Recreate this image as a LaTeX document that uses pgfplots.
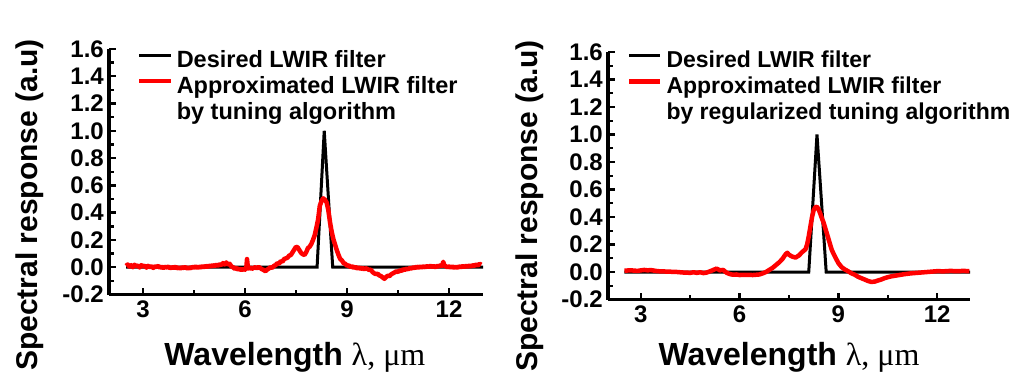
\documentclass[border=0pt]{standalone}
\usepackage{fontspec}
\setmainfont{Liberation Sans}
\newfontfamily\seriffam{Liberation Serif}
\usepackage{pgfplots}
\pgfplotsset{compat=1.18}

\pgfplotsset{
  base/.style={
    scale only axis,
    xmin=2, xmax=13, ymin=-0.2, ymax=1.6,
    axis x line*=bottom, axis y line*=left,
    axis line style={line width=3.2pt},
    tick align=inside,
    major tick length=7pt, minor tick length=5pt,
    tick style={black, line width=2.4pt},
    xtick={3,6,9,12},
    minor xtick={4.5,7.5,10.5},
    ytick={-0.2,0,0.2,0.4,0.6,0.8,1.0,1.2,1.4,1.6},
    minor ytick={-0.1,0.1,0.3,0.5,0.7,0.9,1.1,1.3,1.5},
  },
  tl/.style={
    xticklabels={3,6,9,12},
    yticklabels={-0.2,0.0,0.2,0.4,0.6,0.8,1.0,1.2,1.4,1.6},
    ticklabel style={font=\fontsize{24}{28}\selectfont\bfseries},
    xticklabel style={inner sep=0pt, anchor=north, yshift=-6pt},
    yticklabel style={inner sep=0pt, anchor=east, xshift=-5pt},
  },
  lg/.style={
    label style={font=\fontsize{30}{34}\selectfont\bfseries},
    xlabel style={font=\fontsize{32}{36}\selectfont\bfseries, anchor=center},
    ylabel style={anchor=center},
    xlabel={Wavelength {\seriffam\mdseries λ, μm}},
    ylabel={Spectral response (a.u)},
    legend cell align=left,
    legend image code/.code={\draw[##1] (0pt,6pt) -- (31pt,6pt);},
    legend style={anchor=north west, draw=none, fill=none, inner sep=0pt,
      row sep=2pt, column sep=4pt,
      nodes={inner sep=0pt, text height=18pt, text depth=6pt}},
  },
}

\begin{document}
\begin{tikzpicture}
\useasboundingbox (0,0) rectangle (1016pt,383pt);
\begin{axis}[base, tl, lg,
  at={(109pt,88.5pt)}, anchor=south west,
  width=374pt, height=245.5pt,
  xlabel style={at={(axis description cs:0.497,-0.255)}},
  ylabel style={at={(axis description cs:-0.211,0.365)}},
  legend style={at={(axis description cs:0.075,1.0)}, font=\fontsize{23.5}{26}\selectfont\bfseries},
]
\addplot[black, line width=3pt] coordinates {(2.5,0) (8.12,0) (8.33,1.0) (8.58,0) (13,0)};
\addlegendentry{Desired LWIR filter}
\addplot[red, line width=4.5pt, line join=round] coordinates {
(2.50,0.010) (2.55,0.020) (2.60,0.005) (2.65,0.015) (2.70,0.000) (2.75,0.018) (2.80,0.008) (2.85,0.012) (2.90,-0.002) (2.95,0.015)
(3.00,0.005) (3.05,0.012) (3.10,-0.003) (3.15,0.010) (3.20,0.000) (3.25,0.008) (3.30,-0.005) (3.35,0.006) (3.40,0.002) (3.45,0.010)
(3.50,-0.004) (3.55,0.004) (3.60,-0.006) (3.65,0.003) (3.70,-0.002) (3.75,0.005) (3.80,-0.008) (3.85,0.000) (3.90,-0.005) (3.95,0.004)
(4.00,-0.008) (4.05,-0.002) (4.10,-0.010) (4.15,0.000) (4.20,-0.006) (4.25,0.002) (4.30,-0.010) (4.35,-0.002) (4.40,-0.008) (4.45,0.003)
(4.50,-0.004) (4.55,0.006) (4.60,-0.005) (4.65,0.004) (4.70,-0.002) (4.75,0.008) (4.80,0.000) (4.85,0.010) (4.90,0.002) (4.95,0.012)
(5.00,0.005) (5.05,0.015) (5.10,0.008) (5.15,0.018) (5.20,0.010) (5.25,0.022) (5.30,0.015) (5.35,0.030) (5.40,0.020) (5.45,0.035)
(5.50,0.018) (5.55,0.025) (5.60,0.005) (5.65,0.000) (5.70,-0.012) (5.75,-0.005) (5.80,-0.018) (5.85,-0.010) (5.90,-0.022) (5.95,-0.012)
(6.00,-0.018) (6.04,0.000) (6.06,0.060) (6.08,0.010) (6.10,-0.010) (6.15,-0.002) (6.20,-0.012) (6.25,-0.005) (6.30,0.000) (6.35,-0.008)
(6.40,0.002) (6.45,-0.006) (6.50,-0.015) (6.55,-0.020) (6.60,-0.030) (6.65,-0.018) (6.70,-0.010) (6.75,0.000) (6.80,-0.005) (6.85,0.010)
(6.90,0.015) (6.95,0.030) (7.00,0.025) (7.05,0.045) (7.10,0.040) (7.15,0.060) (7.20,0.065) (7.25,0.070) (7.30,0.085) (7.35,0.090)
(7.40,0.110) (7.45,0.130) (7.50,0.150) (7.55,0.145) (7.60,0.125) (7.65,0.105) (7.70,0.095) (7.75,0.090) (7.80,0.110) (7.85,0.140)
(7.90,0.150) (7.95,0.170) (8.00,0.200) (8.05,0.235) (8.10,0.290) (8.15,0.350) (8.20,0.450) (8.25,0.485) (8.30,0.505) (8.35,0.495)
(8.40,0.475) (8.45,0.420) (8.50,0.330) (8.55,0.260) (8.60,0.205) (8.65,0.165) (8.70,0.125) (8.75,0.090) (8.80,0.060) (8.85,0.050)
(8.90,0.030) (8.95,0.025) (9.00,0.010) (9.05,0.015) (9.10,0.000) (9.15,0.008) (9.20,-0.005) (9.25,0.003) (9.30,-0.010) (9.35,-0.002)
(9.40,-0.012) (9.45,-0.005) (9.50,-0.015) (9.55,-0.008) (9.60,-0.012) (9.65,-0.020) (9.70,-0.018) (9.75,-0.035) (9.80,-0.045) (9.85,-0.050)
(9.90,-0.048) (9.95,-0.060) (10.00,-0.065) (10.05,-0.075) (10.10,-0.085) (10.15,-0.072) (10.20,-0.062) (10.25,-0.065) (10.30,-0.052) (10.35,-0.045)
(10.40,-0.038) (10.45,-0.030) (10.50,-0.035) (10.55,-0.022) (10.60,-0.028) (10.65,-0.015) (10.70,-0.020) (10.75,-0.010) (10.80,-0.015) (10.85,-0.005)
(10.90,-0.010) (10.95,0.000) (11.00,-0.006) (11.05,0.004) (11.10,-0.003) (11.15,0.005) (11.20,-0.002) (11.25,0.006) (11.30,0.000) (11.35,0.008)
(11.40,0.002) (11.45,0.010) (11.50,0.003) (11.55,0.008) (11.60,0.000) (11.65,0.010) (11.70,0.005) (11.75,0.015) (11.80,0.010) (11.83,0.040)
(11.86,0.015) (11.90,0.008) (11.95,0.000) (12.00,0.006) (12.05,-0.002) (12.10,0.005) (12.15,-0.004) (12.20,0.003) (12.25,-0.003) (12.30,0.006)
(12.35,0.000) (12.40,0.008) (12.45,0.002) (12.50,0.010) (12.55,0.004) (12.60,0.012) (12.65,0.006) (12.70,0.015) (12.75,0.010) (12.80,0.020)
(12.85,0.012) (12.90,0.025) (12.95,0.018)
};
\addlegendentry{Approximated LWIR filter}
\addlegendimage{empty legend}
\addlegendentry{by tuning algorithm}
\end{axis}
\begin{axis}[base, tl, lg,
  at={(608pt,83.5pt)}, anchor=south west,
  width=362pt, height=247.5pt,
  xlabel style={at={(axis description cs:0.5,-0.232)}},
  ylabel style={at={(axis description cs:-0.215,0.378)}},
  legend style={at={(axis description cs:0.052,1.01)}, font=\fontsize{23}{26}\selectfont\bfseries},
]
\addplot[black, line width=3pt] coordinates {(2.5,0) (8.1,0) (8.35,1.0) (8.63,0) (13,0)};
\addlegendentry{Desired LWIR filter}
\addplot[red, line width=4.5pt, line join=round] coordinates {
(2.50,0.010) (2.70,0.012) (2.90,0.008) (3.00,0.012) (3.10,0.015) (3.20,0.012) (3.30,0.014) (3.40,0.010) (3.50,0.006) (3.70,0.004)
(3.90,0.002) (4.10,0.000) (4.30,-0.004) (4.50,-0.006) (4.60,-0.002) (4.70,-0.006) (4.80,-0.002) (4.90,-0.008) (5.00,-0.004) (5.10,0.005)
(5.20,0.015) (5.30,0.025) (5.40,0.012) (5.50,0.015) (5.60,-0.005) (5.70,-0.015) (5.80,-0.020) (5.90,-0.018) (6.00,-0.022) (6.20,-0.020)
(6.40,-0.022) (6.60,-0.018) (6.70,-0.010) (6.80,0.000) (6.90,0.015) (7.00,0.030) (7.10,0.050) (7.20,0.070) (7.30,0.095) (7.40,0.130)
(7.45,0.140) (7.50,0.125) (7.60,0.112) (7.70,0.105) (7.80,0.120) (7.90,0.145) (8.00,0.165) (8.05,0.200) (8.10,0.260) (8.15,0.330)
(8.20,0.400) (8.25,0.450) (8.30,0.470) (8.35,0.475) (8.40,0.455) (8.45,0.425) (8.50,0.390) (8.55,0.360) (8.60,0.320) (8.65,0.280)
(8.70,0.240) (8.75,0.200) (8.80,0.160) (8.90,0.110) (9.00,0.065) (9.10,0.035) (9.20,0.018) (9.30,0.005) (9.40,-0.010) (9.50,-0.020)
(9.60,-0.035) (9.70,-0.045) (9.80,-0.055) (9.90,-0.065) (10.00,-0.072) (10.10,-0.070) (10.20,-0.062) (10.30,-0.055) (10.40,-0.045) (10.50,-0.038)
(10.60,-0.032) (10.70,-0.028) (10.80,-0.024) (11.00,-0.016) (11.20,-0.010) (11.40,-0.006) (11.60,-0.002) (11.80,0.002) (12.00,0.006) (12.20,0.005)
(12.40,0.008) (12.60,0.006) (12.80,0.008) (12.98,0.006)
};
\addlegendentry{Approximated LWIR filter}
\addlegendimage{empty legend}
\addlegendentry{by regularized tuning algorithm}
\end{axis}
\end{tikzpicture}
\end{document}
